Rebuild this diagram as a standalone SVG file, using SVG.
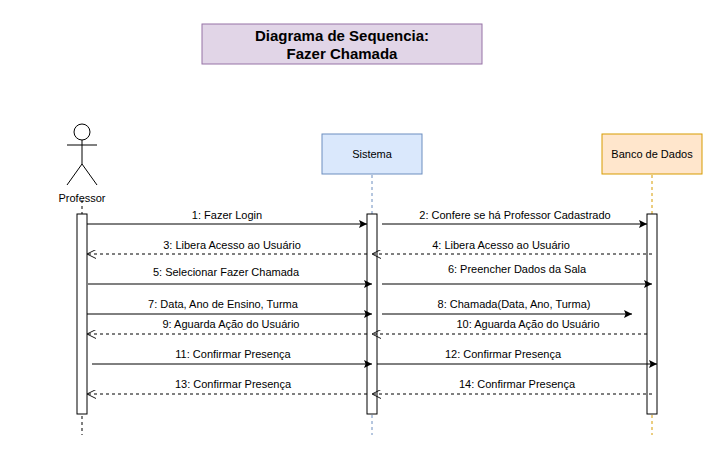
<svg xmlns="http://www.w3.org/2000/svg" width="727" height="450" viewBox="0 0 727 450">
<style>
text{font-family:"Liberation Sans",Arial,sans-serif;font-size:11px;fill:#000;text-anchor:middle}
.t{font-size:15px;font-weight:bold}
.m{stroke:#000;stroke-width:1;fill:none}
.g{stroke:#808080;stroke-width:2;fill:none}
.d{stroke:#000;stroke-width:1;fill:none;stroke-dasharray:3 3}
.act{fill:#fff;stroke:#000}
</style>
<defs>
<marker id="f" viewBox="0 0 10 10" refX="10" refY="5" markerWidth="8" markerHeight="8" markerUnits="userSpaceOnUse" orient="auto"><path d="M0,0L10,5L0,10L2,5Z" fill="#000"/></marker>
<marker id="o" viewBox="0 0 10 10" refX="10" refY="5" markerWidth="9" markerHeight="9" markerUnits="userSpaceOnUse" orient="auto"><path d="M0,0L10,5L0,10" fill="none" stroke="#000"/></marker>
</defs>
<rect width="727" height="450" fill="#fff"/>
<g id="title"><rect x="202" y="24" width="280" height="40" fill="#e1d5e7" stroke="#9673a6"/><text class="t" x="342" y="41">Diagrama de Sequencia:</text><text class="t" x="342" y="59">Fazer Chamada</text></g>
<g id="professor">
<line x1="82" y1="200" x2="82" y2="435" class="d"/>
<circle cx="82" cy="132" r="8" fill="#fff" stroke="#000"/>
<path d="M82,140V164M67,145H97M67,185L82,164L97,185" stroke="#000" fill="none"/>
<text x="82" y="202">Professor</text>
<rect class="act" x="77" y="214" width="10" height="200"/>
</g>
<g id="sistema">
<line x1="372" y1="175" x2="372" y2="435" stroke="#6c8ebf" stroke-dasharray="3 3"/>
<rect x="322" y="134" width="100" height="40" fill="#dae8fc" stroke="#6c8ebf"/><text x="372" y="158">Sistema</text>
<rect class="act" x="367" y="214" width="10" height="200"/>
</g>
<g id="banco">
<line x1="652" y1="175" x2="652" y2="435" stroke="#d79b00" stroke-dasharray="3 3"/>
<rect x="602" y="134" width="100" height="40" fill="#ffe6cc" stroke="#d79b00"/><text x="652" y="158">Banco de Dados</text>
<rect class="act" x="647" y="214" width="10" height="200"/>
</g>
<g id="connectors">
<line class="m" x1="87" y1="224" x2="367" y2="224" marker-end="url(#f)"/><text x="227" y="219">1: Fazer Login</text>
<line class="m" x1="382" y1="224" x2="647" y2="224" marker-end="url(#f)"/><text x="515" y="219">2: Confere se há Professor Cadastrado</text>
<line class="d" x1="367" y1="254" x2="87" y2="254" marker-end="url(#o)"/><text x="232" y="249">3: Libera Acesso ao Usuário</text>
<line class="d" x1="652" y1="254" x2="372" y2="254" marker-end="url(#o)"/><text x="501" y="249">4: Libera Acesso ao Usuário</text>
<line class="g" x1="87" y1="284" x2="372" y2="284" marker-end="url(#f)"/><text x="226" y="276">5: Selecionar Fazer Chamada</text>
<line class="g" x1="382" y1="284" x2="652" y2="284" marker-end="url(#f)"/><text x="517" y="273">6: Preencher Dados da Sala</text>
<line class="m" x1="87" y1="314" x2="372" y2="314" marker-end="url(#f)"/><text x="223" y="308">7: Data, Ano de Ensino, Turma</text>
<line class="m" x1="382" y1="314" x2="632" y2="314" marker-end="url(#f)"/><text x="514" y="308">8: Chamada(Data, Ano, Turma)</text>
<line class="d" x1="367" y1="334" x2="87" y2="334" marker-end="url(#o)"/><text x="231" y="328">9: Aguarda Ação do Usuário</text>
<line class="d" x1="647" y1="334" x2="372" y2="334" marker-end="url(#o)"/><text x="528" y="328">10: Aguarda Ação do Usuário</text>
<line class="m" x1="92" y1="364" x2="372" y2="364" marker-end="url(#f)"/><text x="233" y="358">11: Confirmar Presença</text>
<line class="m" x1="377" y1="364" x2="657" y2="364" marker-end="url(#f)"/><text x="503" y="358">12: Confirmar Presença</text>
<line class="d" x1="367" y1="394" x2="87" y2="394" marker-end="url(#o)"/><text x="233" y="388">13: Confirmar Presença</text>
<line class="d" x1="652" y1="394" x2="372" y2="394" marker-end="url(#o)"/><text x="517" y="388">14: Confirmar Presença</text>
</g>
</svg>
